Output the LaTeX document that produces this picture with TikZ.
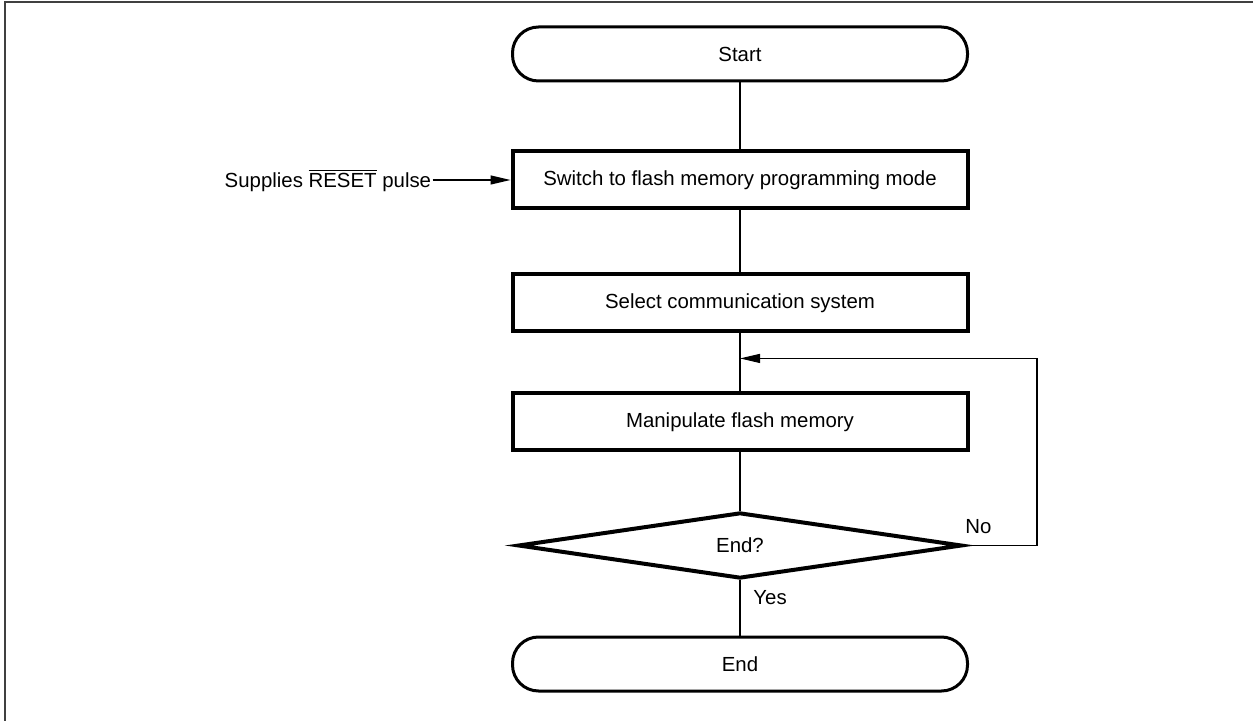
\documentclass[tikz,border=0pt]{standalone}
\usepackage{fontspec}
\setmainfont{Liberation Sans}
\usetikzlibrary{positioning,arrows.meta,calc,shapes.geometric}

\begin{document}
\begin{tikzpicture}[x=0.5pt,y=-0.5pt,font=\fontsize{10.2}{12}\selectfont,
  terminal/.style={draw,line width=1.5pt,rounded corners=13pt,minimum width=227.5pt,minimum height=27pt},
  process/.style={draw,line width=2pt,minimum width=227.5pt,minimum height=28.5pt},
  decision/.style={diamond,draw,line width=2pt,aspect=7,inner sep=0pt,minimum width=222pt,minimum height=33pt},
  link/.style={line width=0.6pt},
  flow/.style={line width=0.6pt,-{Triangle[length=10pt,width=4.5pt]}},
  lbl/.style={inner sep=0.5pt}]
\useasboundingbox (0,0) rectangle (1253,721);
\draw[black!75,line width=0.8pt] (5,721) -- (5,2) -- (1253,2);
\node[terminal] (start) at (740,54) {Start};
\node[process,below=33.5pt of start] (switch) {Switch to flash memory programming mode};
\node[process,below=31pt of switch] (select) {Select communication system};
\node[process,below=29pt of select] (manip) {Manipulate flash memory};
\node[decision,below=29pt of manip] (decide) {End?};
\node[terminal,below=27.5pt of decide] (stop) {End};
\node[lbl,left=39pt of switch] (reset) {Supplies $\overline{\mbox{RESET}}$ pulse};
\node[lbl,anchor=south west] (no) at ($(decide.east)+(0,5pt)$) {No};
\node[lbl,anchor=north west] (yes) at ($(decide.south)+(6pt,-4.5pt)$) {Yes};
% loop back from the decision
\coordinate (merge) at ($(select.south)!0.43!(manip.north)$);
\path (decide.east) ++(36.5pt,0) coordinate (side);
\coordinate (back) at (side |- merge);
\draw[link] (start)--(switch); \draw[link] (switch)--(select); \draw[link] (select)--(manip); \draw[link] (manip)--(decide); \draw[link] (decide)--(stop);
\draw[flow] (reset)--(switch);
\draw[flow] (decide.east) -| (back) -- (merge);
\end{tikzpicture}
\end{document}
